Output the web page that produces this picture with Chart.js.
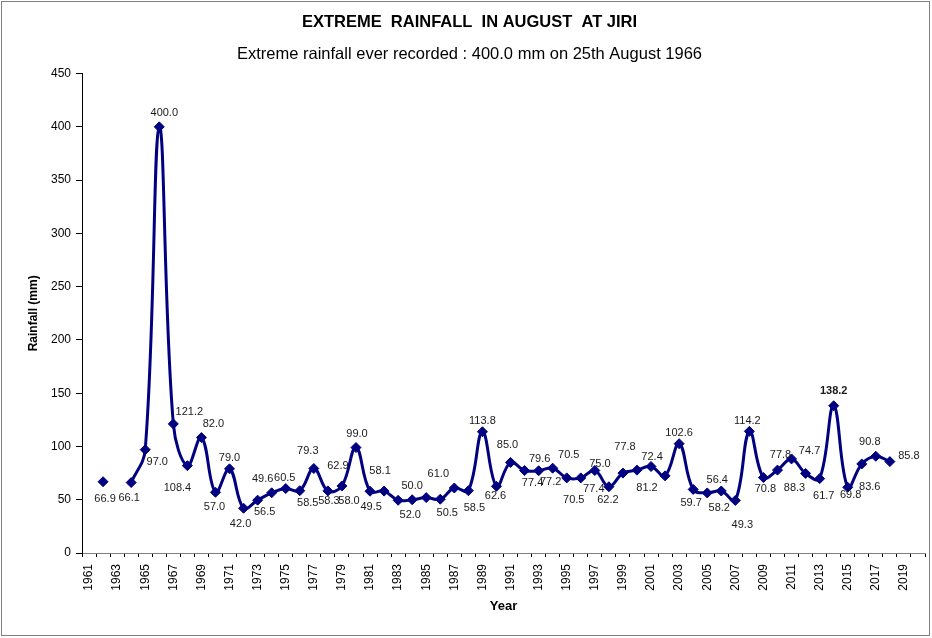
<!DOCTYPE html>
<html>
<head>
<meta charset="utf-8">
<title>Extreme Rainfall in August at Jiri</title>
<script src="https://cdn.jsdelivr.net/npm/chart.js@4.4.0/dist/chart.umd.min.js"></script>
<style>
html,body{margin:0;padding:0;background:#fff;}
canvas{display:block;}
</style>
</head>
<body>
<canvas id="myChart" width="932" height="638"></canvas>
<script>
chartTitle = "EXTREME  RAINFALL  IN AUGUST  AT JIRI";
chartSubtitle = "Extreme rainfall ever recorded : 400.0 mm on 25th August 1966";
yTitle = "Rainfall (mm)";
xTitle = "Year";

// one category per year, labels shown every second year
var years = [
  "1961","1962","1963","1964","1965","1966","1967","1968","1969","1970",
  "1971","1972","1973","1974","1975","1976","1977","1978","1979","1980",
  "1981","1982","1983","1984","1985","1986","1987","1988","1989","1990",
  "1991","1992","1993","1994","1995","1996","1997","1998","1999","2000",
  "2001","2002","2003","2004","2005","2006","2007","2008","2009","2010",
  "2011","2012","2013","2014","2015","2016","2017","2018","2019","2020"
];

// extreme August rainfall (mm), null = no record
var rainfall = [
  null, 66.9, null, 66.1, 97.0, 400.0, 121.2, 82.0, 108.4, 57.0,
  79.0, 42.0, 49.6, 56.5, 60.5, 58.5, 79.3, 58.3, 62.9, 99.0,
  58.0, 58.1, 49.5, 50.0, 52.0, 50.5, 61.0, 58.5, 113.8, 62.6,
  85.0, 77.4, 77.2, 79.6, 70.5, 70.5, 77.4, 62.2, 75.0, 77.8,
  81.2, 72.4, 102.6, 59.7, 56.4, 58.2, 49.3, 114.2, 70.8, 77.8,
  88.3, 74.7, 69.8, 138.2, 61.7, 83.6, 90.8, 85.8, null, null
];

var boldYear = "2014";

// where each value label sits relative to its marker (px)
var labelOffsets = [
  null, [2,17], null, [-2,15], [12,12], [5,-14], [16,-12], [26,-42], [-24,50], [-1,15],
  [0,-11], [-3,16], [5,-21], [-7,19], [-1,-11], [8,12], [-6,-18], [1,10], [-4,-20], [1,-14],
  [-21,10], [-4,-20], [-27,7], [0,-14], [-16,17], [7,14], [-16,-14], [6,17], [0,-11], [-1,10],
  [-3,-17], [8,12], [12,11], [-13,-9], [2,-23], [-7,22], [-1,18], [-1,13], [-23,-9], [-12,-23],
  [-4,21], [-13,-19], [0,-11], [-2,14], [10,-13], [-2,17], [7,24], [-2,-10], [2,11], [3,-15],
  [3,29], [4,-22], [31,16], [0,-15], [-24,9], [8,23], [-6,-14], [19,-6], null, null
];

var FONT = "Arial, 'Liberation Sans', sans-serif";
Chart.defaults.font.family = FONT;
Chart.defaults.color = "#000";

var framePlugin = {
  id: "frame",
  beforeDraw: function(chart){
    var ctx = chart.ctx;
    ctx.save();
    ctx.fillStyle = "#fff";
    ctx.fillRect(0, 0, chart.width, chart.height);
    ctx.restore();
  },
  afterDraw: function(chart){
    var ctx = chart.ctx;
    ctx.save();
    ctx.strokeStyle = "#808080";
    ctx.lineWidth = 1;
    ctx.strokeRect(1.5, 1.5, chart.width - 4, chart.height - 4);
    ctx.restore();
  }
};

var pointLabelPlugin = {
  id: "pointLabels",
  afterDatasetsDraw: function(chart){
    var ctx = chart.ctx;
    var meta = chart.getDatasetMeta(0);
    ctx.save();
    ctx.textAlign = "center";
    ctx.textBaseline = "middle";
    ctx.fillStyle = "#1a1a1a";
    meta.data.forEach(function(pt, i){
      var v = rainfall[i];
      if (v === null) return;
      var off = labelOffsets[i] || [0, -14];
      ctx.font = (years[i] === boldYear ? "bold " : "") + "11px " + FONT;
      ctx.fillText(v.toFixed(1), pt.x + off[0], pt.y + off[1]);
    });
    ctx.restore();
  }
};

new Chart("myChart", {
  type: "line",
  data: {
    labels: years,
    datasets: [{
      data: rainfall,
      borderColor: "#000080",
      backgroundColor: "#000080",
      borderWidth: 3,
      tension: 0.4,
      pointStyle: "rectRot",
      pointRadius: 5,
      pointBorderWidth: 1,
      fill: false,
      spanGaps: false
    }]
  },
  options: {
    responsive: false,
    animation: false,
    layout: {padding: {left: 14, right: 7, top: 0, bottom: 0}},
    plugins: {
      legend: {display: false},
      tooltip: {enabled: false},
      title: {display: true, text: chartTitle, color: "#000", font: {size: 16.5, weight: "bold"}, padding: {top: 13, bottom: 9}},
      subtitle: {display: true, text: chartSubtitle, color: "#000", font: {size: 16.5, weight: "normal"}, padding: {top: 3, bottom: 9}}
    },
    scales: {
      x: {
        offset: true,
        grid: {offset: true, drawOnChartArea: false, tickLength: 4, color: "#000"},
        border: {color: "#808080", width: 1},
        ticks: {
          autoSkip: false, maxRotation: 90, minRotation: 90, padding: 7,
          font: {size: 12}, color: "#000",
          callback: function(v, i){ return i % 2 === 0 ? this.getLabelForValue(v) : ""; }
        },
        title: {display: true, text: xTitle, font: {size: 13, weight: "bold"}, padding: {top: 0, bottom: 24}},
        afterFit: function(s){ s.height = 85; s.paddingLeft = 0; s.paddingRight = 0; }
      },
      y: {
        min: 0, max: 450,
        ticks: {stepSize: 50, padding: 5, font: {size: 12}, color: "#000"},
        grid: {drawOnChartArea: false, tickLength: 6, color: "#000"},
        border: {color: "#000", width: 1},
        title: {display: true, text: yTitle, font: {size: 12, weight: "bold"}, padding: {top: 12, bottom: 0}},
        afterFit: function(s){ s.width = 68; }
      }
    }
  },
  plugins: [framePlugin, pointLabelPlugin]
});
</script>
</body>
</html>
